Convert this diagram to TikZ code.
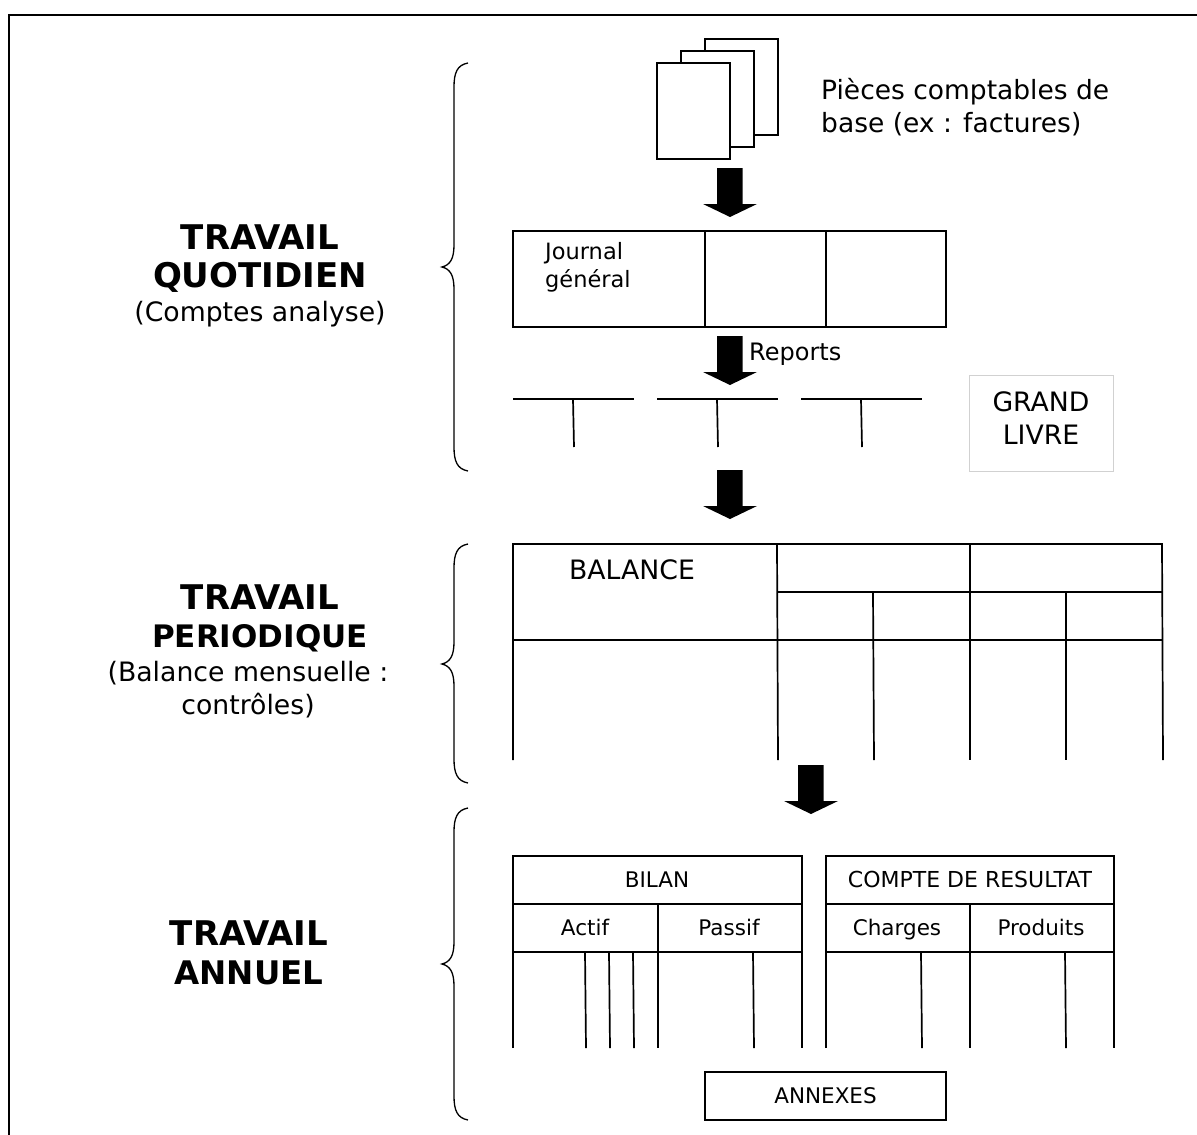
\documentclass[tikz,border=0pt]{standalone}
\usepackage{fontspec}
\setmainfont{DejaVu Sans}
\tikzset{
  x=1pt,y=-1pt,
  ln/.style={draw=black,line width=1.7pt},
  sheet/.style={draw=black,fill=white,line width=1.7pt,minimum width=73pt,minimum height=96pt,inner sep=0pt,outer sep=0pt,anchor=north west},
  arr/.style={fill=black,draw=none},
  lbl/.style={inner sep=0pt,font=\fontsize{26.5}{33}\selectfont,align=left},
  big/.style={inner sep=0pt,anchor=base},
  sub/.style={inner sep=0pt,font=\fontsize{26.7}{33}\selectfont,align=center},
  cell/.style={inner sep=0pt,font=\fontsize{21.5}{28}\selectfont,align=center,anchor=base}
}
\newcommand{\blockarrow}[2]{\fill[arr] (#1-13,#2) -- (#1+12.5,#2) -- (#1+12.5,#2+36) -- (#1+27,#2+36) -- (#1,#2+49) -- (#1-27,#2+36) -- (#1-13,#2+36) -- cycle;}
\newcommand{\mybrace}[3]{\draw[black,line width=1.3pt] (468,#1) .. controls (457,#1+2) and (454,#1+10) .. (454,#1+24) -- (454,#2-22) .. controls (454,#2-8) and (450,#2-2) .. (442,#2) .. controls (450,#2+2) and (454,#2+8) .. (454,#2+22) -- (454,#3-24) .. controls (454,#3-10) and (457,#3-2) .. (468,#3);}
\newcommand{\bigfs}[1]{\bfseries\fontsize{#1}{39}\selectfont}
\begin{document}
\begin{tikzpicture}
\useasboundingbox (0,0) rectangle (1197,1135);
\draw[line width=2pt] (9,1135) -- (9,15) -- (1197,15);
\node[sheet] (s3) at (705,38.7) {};
\node[sheet] (s2) at (681,51) {};
\node[sheet] (s1) at (657.2,63) {};
\node[lbl,anchor=west] (pc) at (821,107) {Pièces comptables de\\base (ex : factures)};
\blockarrow{730}{168}
\draw[ln] (513,231) rectangle (946,327);
\draw[ln] (705,231) -- (705,327);
\draw[ln] (826,231) -- (826,327);
\node[inner sep=0pt,font=\fontsize{22.5}{28}\selectfont,align=left,anchor=west] (jg) at (545,267) {Journal\\général};
\blockarrow{730}{336}
\node[inner sep=0pt,font=\fontsize{24}{28}\selectfont,anchor=base west] (rep) at (749,360) {Reports};
\draw[ln] (513,399) -- (634,399); \draw[ln] (573,399) -- (574,447);
\draw[ln] (657,399) -- (778,399); \draw[ln] (717,399) -- (718,447);
\draw[ln] (801,399) -- (922,399); \draw[ln] (861,399) -- (862,447);
\node[draw=black!18,line width=1pt,minimum width=143.5pt,minimum height=96pt,inner sep=0pt,outer sep=0pt,anchor=north west] (gl) at (969.5,375.5) {};
\node[sub,anchor=center] (gltxt) at (1041,418) {GRAND\\LIVRE};
\blockarrow{730}{470}
\draw[ln] (513,760) -- (513,544) -- (1162,544) -- (1163,760);
\draw[ln] (513,640) -- (1162,640);
\draw[ln] (777,544) -- (778,760);
\draw[ln] (970,544) -- (970,760);
\draw[ln] (777,592) -- (1162,592);
\draw[ln] (873,592) -- (874,760);
\draw[ln] (1066,592) -- (1066,760);
\node[inner sep=0pt,font=\fontsize{26.7}{33}\selectfont,anchor=base] (bal) at (632,579) {BALANCE};
\blockarrow{811}{765}
\draw[ln] (513,1048) -- (513,856) -- (802,856) -- (802,1048);
\draw[ln] (513,904) -- (802,904);
\draw[ln] (513,952) -- (802,952);
\draw[ln] (658,904) -- (658,1048);
\draw[ln] (585,952) -- (586,1048);
\draw[ln] (609,952) -- (610,1048);
\draw[ln] (633,952) -- (634,1048);
\draw[ln] (753,952) -- (754,1048);
\node[cell] (bilan) at (657,887) {BILAN};
\node[cell] (actif) at (585,935) {Actif};
\node[cell] (passif) at (729,935) {Passif};
\draw[ln] (826,1048) -- (826,856) -- (1114,856) -- (1114,1048);
\draw[ln] (826,904) -- (1114,904);
\draw[ln] (826,952) -- (1114,952);
\draw[ln] (970,904) -- (970,1048);
\draw[ln] (921,952) -- (922,1048);
\draw[ln] (1065,952) -- (1066,1048);
\node[cell,font=\fontsize{22}{28}\selectfont] (cr) at (970,887) {COMPTE DE RESULTAT};
\node[cell] (ch) at (897,935) {Charges};
\node[cell] (pr) at (1041,935) {Produits};
\node[draw=black,line width=1.7pt,minimum width=241pt,minimum height=48pt,inner sep=0pt,outer sep=0pt,anchor=north west] (ann) at (705,1072) {};
\node[cell] (anntxt) at (825.5,1103) {ANNEXES};
\mybrace{63}{267}{471}
\mybrace{544}{664}{783}
\mybrace{808}{964}{1120}
\node[big,font=\bigfs{34}] (t1a) at (260,249) {TRAVAIL};
\node[big,font=\bigfs{34}] (t1b) at (260,287.5) {QUOTIDIEN};
\node[sub] (t1s) at (260,314) {(Comptes analyse)};
\node[big,font=\bigfs{34}] (t2a) at (260,609.5) {TRAVAIL};
\node[big,font=\bigfs{31}] (t2b) at (260,647.5) {PERIODIQUE};
\node[sub] (t2s) at (248,689.5) {(Balance mensuelle :\\contrôles)};
\node[big,font=\bigfs{34}] (t3a) at (249,945.5) {TRAVAIL};
\node[big,font=\bigfs{32.5}] (t3b) at (249,984) {ANNUEL};
\end{tikzpicture}
\end{document}
